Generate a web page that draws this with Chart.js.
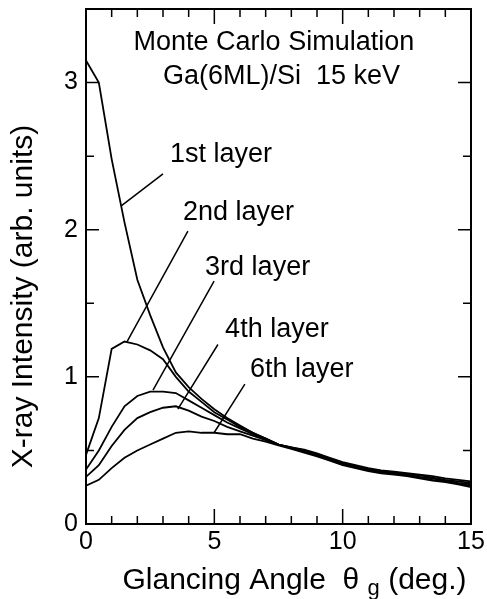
<!DOCTYPE html>
<html>
<head>
<meta charset="utf-8">
<script src="https://cdn.jsdelivr.net/npm/chart.js@4.4.1/dist/chart.umd.min.js"></script>
<style>
  html, body { margin: 0; padding: 0; background: #fff; }
</style>
</head>
<body>
<canvas id="myChart" width="487" height="599"></canvas>
<script>
// glancing angle (deg.)
const angles = [0, 0.5, 1, 1.5, 2, 2.5, 3, 3.5, 4, 4.5, 5, 5.5, 6, 6.5, 7, 7.5,
                8, 8.5, 9, 9.5, 10, 10.5, 11, 11.5, 12, 12.5, 13, 13.5, 14, 14.5, 15];

// X-ray intensity per layer (arb. units)
const layer1 = [3.15, 3.0, 2.48, 2.05, 1.66, 1.42, 1.2, 1.03, 0.93, 0.85, 0.78, 0.72, 0.67, 0.62, 0.58,
                0.54, 0.52, 0.505, 0.48, 0.45, 0.42, 0.40, 0.38, 0.365, 0.355, 0.345, 0.335, 0.325, 0.31, 0.30, 0.29];
const layer2 = [0.47, 0.72, 1.19, 1.24, 1.22, 1.18, 1.12, 1.0, 0.9, 0.83, 0.76, 0.71, 0.66, 0.62, 0.58,
                0.54, 0.52, 0.50, 0.475, 0.445, 0.415, 0.395, 0.375, 0.36, 0.35, 0.34, 0.33, 0.315, 0.30, 0.29, 0.28];
const layer3 = [0.37, 0.5, 0.66, 0.8, 0.87, 0.9, 0.9, 0.89, 0.84, 0.79, 0.74, 0.69, 0.65, 0.61, 0.58,
                0.54, 0.515, 0.495, 0.47, 0.44, 0.41, 0.39, 0.37, 0.355, 0.345, 0.335, 0.32, 0.31, 0.295, 0.28, 0.27];
const layer4 = [0.32, 0.4, 0.53, 0.64, 0.72, 0.76, 0.79, 0.8, 0.77, 0.73, 0.7, 0.66, 0.63, 0.6, 0.57,
                0.54, 0.515, 0.49, 0.465, 0.435, 0.405, 0.385, 0.365, 0.35, 0.34, 0.33, 0.315, 0.30, 0.29, 0.275, 0.26];
const layer6 = [0.26, 0.3, 0.38, 0.45, 0.5, 0.54, 0.58, 0.62, 0.63, 0.62, 0.62, 0.61, 0.61, 0.58, 0.56,
                0.535, 0.51, 0.485, 0.46, 0.43, 0.40, 0.38, 0.36, 0.345, 0.335, 0.325, 0.31, 0.295, 0.285, 0.27, 0.25];

const xTicks = [0, 5, 10, 15];
const yTicks = [0, 1, 2, 3];

// labels with leader lines, in data coordinates
const layerLabels = [
  { text: '1st layer', x: 3.27, y: 2.51, from: [3.0, 2.38], to: [1.36, 2.16] },
  { text: '2nd layer', x: 3.78, y: 2.12, from: [3.97, 1.99], to: [1.6, 1.24] },
  { text: '3rd layer', x: 4.64, y: 1.745, from: [4.99, 1.65], to: [2.61, 0.91] },
  { text: '4th layer', x: 5.42, y: 1.32, from: [5.14, 1.22], to: [3.58, 0.78] },
  { text: '6th layer', x: 6.39, y: 1.05, from: [6.19, 0.95], to: [4.99, 0.62] }
];
const noteLines = [
  { text: 'Monte Carlo Simulation', x: 7.32, y: 3.27 },
  { text: 'Ga(6ML)/Si  15 keV', x: 7.62, y: 3.04 }
];

const FONT = '"Liberation Sans", Arial, Helvetica, sans-serif';

function pts(vals) {
    return angles.map((a, i) => ({ x: a, y: vals[i] }));
}

function lineSet(vals) {
    return {
        data: pts(vals),
        borderColor: '#000',
        borderWidth: 1.8,
        pointRadius: 0,
        tension: 0,
        fill: false
    };
}

// frame, inward ticks, tick labels, annotations, axis titles
const decorations = {
    id: 'decorations',
    afterDatasetsDraw(chart) {
        const { ctx, chartArea: a, scales: { x, y } } = chart;
        ctx.save();
        ctx.strokeStyle = '#000';
        ctx.fillStyle = '#000';

        ctx.lineWidth = 1.5;
        ctx.beginPath();
        for (let v = 0; v <= 15; v += 1) {
            const px = x.getPixelForValue(v);
            const len = v % 5 === 0 ? 15 : 8;
            ctx.moveTo(px, a.bottom); ctx.lineTo(px, a.bottom - len);
            ctx.moveTo(px, a.top); ctx.lineTo(px, a.top + len);
        }
        for (let v = 0; v <= 3.5; v += 0.5) {
            const py = y.getPixelForValue(v);
            const len = v % 1 === 0 ? 13 : 8;
            ctx.moveTo(a.left, py); ctx.lineTo(a.left + len, py);
            ctx.moveTo(a.right, py); ctx.lineTo(a.right - len, py);
        }
        // leader lines
        layerLabels.forEach(l => {
            ctx.moveTo(x.getPixelForValue(l.from[0]), y.getPixelForValue(l.from[1]));
            ctx.lineTo(x.getPixelForValue(l.to[0]), y.getPixelForValue(l.to[1]));
        });
        ctx.stroke();

        ctx.lineWidth = 2;
        ctx.strokeRect(a.left, a.top, a.right - a.left, a.bottom - a.top);

        // tick labels
        ctx.font = '25px ' + FONT;
        ctx.textBaseline = 'middle';
        ctx.textAlign = 'center';
        xTicks.forEach(v => ctx.fillText(String(v), x.getPixelForValue(v), a.bottom + 18));
        ctx.textAlign = 'right';
        yTicks.forEach(v => ctx.fillText(String(v), a.left - 8, y.getPixelForValue(v)));

        ctx.font = '27px ' + FONT;
        ctx.textAlign = 'left';
        layerLabels.forEach(l => {
            ctx.fillText(l.text, x.getPixelForValue(l.x), y.getPixelForValue(l.y));
        });
        ctx.textAlign = 'center';
        noteLines.forEach(n => {
            ctx.fillText(n.text, x.getPixelForValue(n.x), y.getPixelForValue(n.y));
        });

        // y axis title
        ctx.save();
        ctx.translate(24, (a.top + a.bottom) / 2 + 30);
        ctx.rotate(-Math.PI / 2);
        ctx.font = '30px ' + FONT;
        ctx.textAlign = 'center';
        ctx.fillText('X-ray Intensity (arb. units)', 0, 0);
        ctx.restore();

        // x axis title: Glancing Angle  θ_g (deg.)
        const part1 = 'Glancing Angle  \u03b8 ';
        const sub = 'g';
        const part2 = ' (deg.)';
        ctx.font = '30px ' + FONT;
        const w1 = ctx.measureText(part1).width;
        const w3 = ctx.measureText(part2).width;
        ctx.font = '22px ' + FONT;
        const w2 = ctx.measureText(sub).width;
        const total = w1 + w2 + w3;
        const cx = (a.left + a.right) / 2 + 16;
        const ty = a.bottom + 57;
        let sx = cx - total / 2;
        ctx.textAlign = 'left';
        ctx.font = '30px ' + FONT;
        ctx.fillText(part1, sx, ty);
        sx += w1;
        ctx.font = '22px ' + FONT;
        ctx.fillText(sub, sx, ty + 8);
        sx += w2;
        ctx.font = '30px ' + FONT;
        ctx.fillText(part2, sx, ty);
        ctx.restore();
    }
};

const ctx = document.getElementById('myChart').getContext('2d');
new Chart(ctx, {
    type: 'line',
    data: {
        datasets: [lineSet(layer1), lineSet(layer2), lineSet(layer3), lineSet(layer4), lineSet(layer6)]
    },
    options: {
        responsive: false,
        animation: false,
        layout: { padding: { top: 9, right: 16, left: 0, bottom: 0 } },
        plugins: { legend: { display: false }, tooltip: { enabled: false } },
        scales: {
            x: {
                type: 'linear',
                min: 0, max: 15,
                grid: { display: false, drawTicks: false },
                border: { display: false },
                ticks: { display: false },
                afterFit: s => { s.height = 75; }
            },
            y: {
                min: 0, max: 3.5,
                grid: { display: false, drawTicks: false },
                border: { display: false },
                ticks: { display: false },
                afterFit: s => { s.width = 86; }
            }
        }
    },
    plugins: [decorations]
});
</script>
</body>
</html>
